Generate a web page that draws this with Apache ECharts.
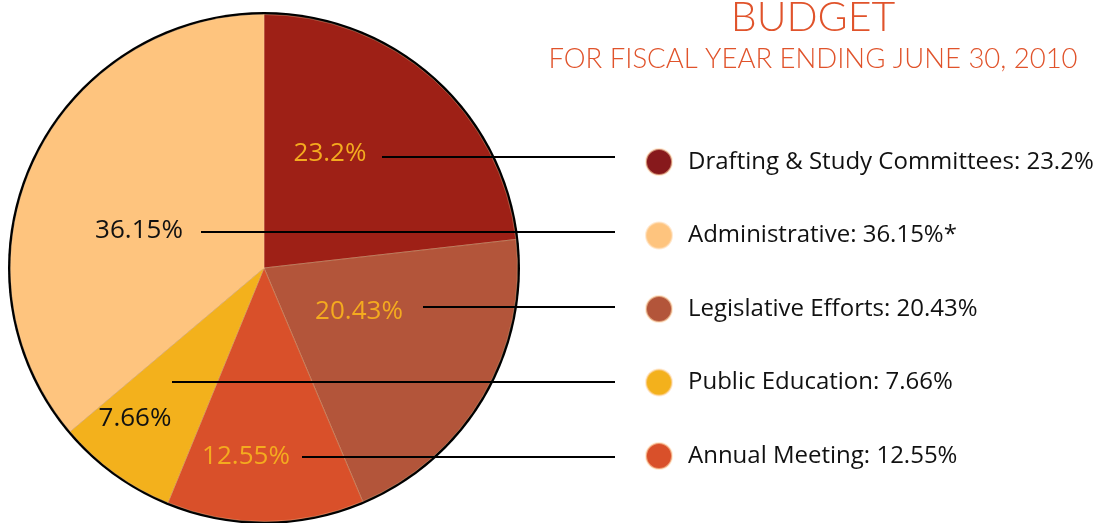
<!DOCTYPE html>
<html><head><meta charset="utf-8">
<script src="https://cdn.jsdelivr.net/npm/echarts@6/dist/echarts.min.js"></script>
<style>html,body{margin:0;padding:0;background:#fff;overflow:hidden}#c{width:1102px;height:523px}</style>
</head><body><div id="c"></div>
<script>
// ---- data ----
const categories = ['Drafting & Study Committees', 'Legislative Efforts', 'Annual Meeting', 'Public Education', 'Administrative'];
const values = [23.2, 20.43, 12.55, 7.66, 36.15];
const notes = ['', '', '', '', '*'];
const legendOrder = ['Drafting & Study Committees', 'Administrative', 'Legislative Efforts', 'Public Education', 'Annual Meeting'];
const titleText = 'BUDGET';
const subtitleText = 'FOR FISCAL YEAR ENDING JUNE 30, 2010';

// ---- styles ----
const sliceColors = ['#9e2016', '#b3553a', '#d9502a', '#f3b11c', '#fec47e'];
const labelColors = ['#f4ab1f', '#f4ab1f', '#f4ab1f', '#111111', '#111111'];
const legendIconColors = {'Drafting & Study Committees': '#87191c'};
// label anchor (center of text) and leader-line start, per category
const labelPos = [[330, 154, 382], [359, 312, 423], [246, 457, 302], [135, 419, 172], [139, 231, 201]];
const legendTop = 143, legendGap = 45.5;
const lineTop = 157, lineStep = 75, lineEnd = 615;
const pieCenter = [264, 268], pieR = 256;

const chart = echarts.init(document.getElementById('c'), null, {renderer: 'canvas'});
const titleColor = '#e0532b';
const pieData = categories.map((c, i) => ({name: c, value: values[i], itemStyle: {color: sliceColors[i]}}));
chart.setOption({
  animation: false,
  title: [
    {text: titleText, left: 808, top: -8, textAlign: 'center',
     textStyle: {fontFamily: 'Lato', fontWeight: 300, fontSize: 41, color: titleColor}},
    {text: subtitleText, left: 808, top: 40, textAlign: 'center',
     textStyle: {fontFamily: 'Lato', fontWeight: 300, fontSize: 27.5, color: titleColor}}
  ],
  legend: {
    orient: 'vertical', left: 640, top: legendTop, icon: 'circle',
    itemWidth: 26, itemHeight: 26, itemGap: legendGap,
    selectedMode: false,
    data: legendOrder.map(n => legendIconColors[n] ? {name: n, itemStyle: {color: legendIconColors[n]}} : {name: n}),
    textStyle: {fontFamily: 'Open Sans', fontSize: 24, lineHeight: 26, color: '#111', padding: [0, 0, 0, 11]},
    formatter: function (name) {
      const i = categories.indexOf(name);
      return name + ': ' + values[i] + '%' + notes[i];
    }
  },
  series: [
    {
      type: 'pie', silent: true, center: pieCenter, radius: pieR, startAngle: 90,
      label: {show: false}, labelLine: {show: false},
      itemStyle: {color: '#000'}, data: [{value: 1, name: ''}], z: 1
    },
    {
      type: 'pie', silent: true, center: pieCenter, radius: pieR - 2.5, startAngle: 90, clockwise: true,
      z: 2, data: pieData,
      itemStyle: {borderColor: 'rgba(255,215,170,0.55)', borderWidth: 0.6},
      label: {show: false}, labelLine: {show: false}
    },
    {
      // overlay carrying the percentage labels and leader lines above the slices
      type: 'pie', silent: true, center: pieCenter, radius: pieR - 2.5, startAngle: 90, clockwise: true,
      avoidLabelOverlap: false, z: 3,
      data: categories.map((c, i) => ({name: c, value: values[i], label: {color: labelColors[i]}})),
      itemStyle: {color: 'rgba(0,0,0,0)', borderWidth: 0},
      label: {
        show: true, position: 'outside', fontFamily: 'Open Sans', fontSize: 26,
        formatter: p => values[p.dataIndex] + '%'
      },
      labelLine: {show: true, length: 10, length2: 10, smooth: false,
                  lineStyle: {color: '#000', width: 2}},
      labelLayout: function (params) {
        const i = params.dataIndex;
        const k = legendOrder.indexOf(categories[i]);
        const ly = lineTop + k * lineStep;
        const p = labelPos[i];
        return {
          x: p[0], y: p[1], align: 'center', verticalAlign: 'middle',
          labelLinePoints: [[p[2], ly], [(p[2] + lineEnd) / 2, ly], [lineEnd, ly]]
        };
      }
    }
  ]
});
</script></body></html>
